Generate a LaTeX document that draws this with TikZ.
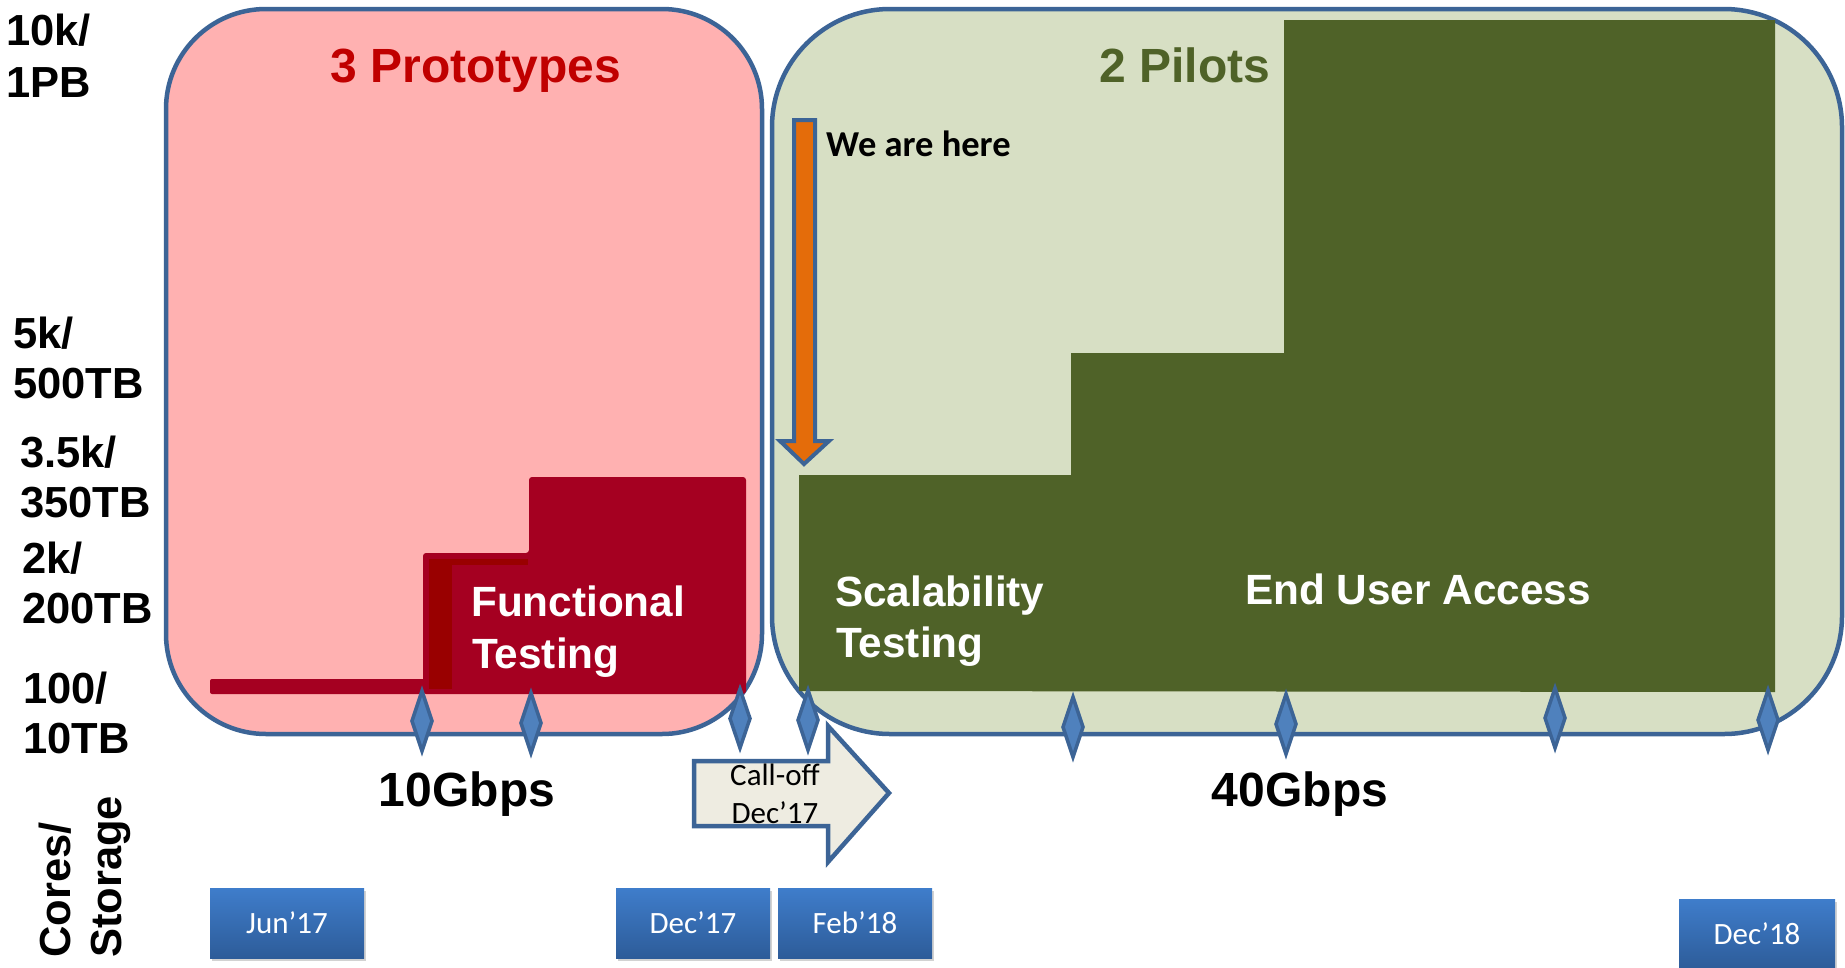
\documentclass[tikz,border=0pt]{standalone}
\usepackage{fontspec}
\setmainfont{Liberation Sans}
\newfontfamily\calibrifont{Carlito}
\usetikzlibrary{shadows}
\definecolor{outl}{HTML}{3C6496}
\definecolor{pinkfill}{HTML}{FFB1B1}
\definecolor{greenfill}{HTML}{D7DFC4}
\definecolor{darkgreen}{HTML}{4F6228}
\definecolor{darkred}{HTML}{A50021}
\definecolor{darkerred}{HTML}{990000}
\definecolor{protored}{HTML}{C00000}
\definecolor{msfill}{HTML}{4F81BD}
\definecolor{orangefill}{HTML}{E46C0A}
\definecolor{beige}{HTML}{EEECE1}
\definecolor{boxtop}{HTML}{3F7DCB}
\definecolor{boxbot}{HTML}{2D5C99}
\begin{document}
\begin{tikzpicture}[x=1pt,y=-1pt,
  frame/.style={draw=outl,line width=4.5pt},
  axislab/.style={font=\fontsize{43.5}{50}\selectfont\bfseries,inner sep=0pt,anchor=base west},
  inlab/.style={font=\fontsize{42.3}{50}\selectfont\bfseries,text=white,inner sep=0pt,anchor=base west},
  title/.style={font=\fontsize{48}{52}\selectfont\bfseries,inner sep=0pt,anchor=base},
  speed/.style={font=\fontsize{48}{52}\selectfont\bfseries,inner sep=0pt,anchor=base},
  ms/.style={draw=outl,fill=msfill,line width=3.5pt,line join=miter},
  datebox/.style={top color=boxtop,bottom color=boxbot,draw=none,minimum width=154pt,minimum height=70pt,inner sep=0pt,text=white,font=\calibrifont\fontsize{31}{36}\selectfont,drop shadow={shadow xshift=2pt,shadow yshift=-3pt,opacity=0.35}},
  calloff/.style={font=\calibrifont\fontsize{31}{36}\selectfont,inner sep=0pt,anchor=base}
]
\useasboundingbox (0,0) rectangle (1845,967);
\fill[white] (0,0) rectangle (1845,967);

% frames
\draw[frame,fill=pinkfill,rounded corners=100pt] (166,9) rectangle (762,734);
\draw[frame,fill=greenfill,rounded corners=118pt] (772,9) rectangle (1842,734);

% red steps
\fill[darkred,rounded corners=2pt] (210,679) rectangle (425,694);
\fill[darkred,rounded corners=3pt] (423,694) -- (423,553) -- (529,553) -- (529,477) -- (746,477) -- (746,694) -- cycle;
\fill[darkerred] (429,559) rectangle (452,689);
\fill[darkerred] (429,559) rectangle (528,565);

% green steps
\fill[darkgreen] (799,691) -- (799,475) -- (1071,475) -- (1071,353) -- (1284,353) -- (1284,20) -- (1775,20) -- (1775,692) -- cycle;

% titles
\node[title,text=protored] (proto) at (476,82) {3 Prototypes};
\node[title,text=darkgreen] (pilots) at (1185,82) {2 Pilots};

% axis labels
\node[axislab] (a1) at (6,45) {10k/};
\node[axislab] (a2) at (6,97) {1PB};
\node[axislab] (b1) at (13,348) {5k/};
\node[axislab] (b2) at (13,398) {500TB};
\node[axislab] (c1) at (20,467) {3.5k/};
\node[axislab] (c2) at (20,517) {350TB};
\node[axislab] (d1) at (22,573) {2k/};
\node[axislab] (d2) at (22,623) {200TB};
\node[axislab] (e1) at (23,703) {100/};
\node[axislab] (e2) at (23,753) {10TB};
\node[axislab,rotate=90] (cores) at (70,958) {Cores/};
\node[axislab,rotate=90] (storage) at (121,958) {Storage};

% inner labels
\node[inlab] (ft1) at (471,616) {Functional};
\node[inlab] (ft2) at (472,668) {Testing};
\node[inlab] (st1) at (835,606) {Scalability};
\node[inlab] (st2) at (836,657) {Testing};
\node[inlab] (eua) at (1245,604) {End User Access};

% speeds
\node[speed] (g10) at (467,806) {10Gbps};
\node[speed] (g40) at (1300,806) {40Gbps};

% we are here arrow
\draw[draw=outl,fill=orangefill,line width=4pt,line join=miter]
  (794,120) -- (815,120) -- (815,441) -- (829,441) -- (804,464) -- (780,441) -- (794,441) -- cycle;
\node[font=\calibrifont\fontsize{36.5}{40}\selectfont\bfseries,inner sep=0pt,anchor=base west] (here) at (826,156) {We are here};

% call-off arrow
\draw[draw=outl,fill=beige,line width=4.5pt,line join=miter]
  (694,761) -- (828,761) -- (828,726) -- (889,793) -- (828,862) -- (828,826) -- (694,826) -- cycle;
\node[calloff] (co1) at (775,785) {Call-off};
\node[calloff] (co2) at (775,823) {Dec’17};

% milestones
\foreach \mx/\ya/\yb in {422/689/753, 531/691/755, 740/687/750, 808/688/752, 1073/695/759, 1286/692/756, 1555/686/750, 1768/688/752}{
  \draw[ms] (\mx,\ya+2) -- (\mx+10,{(\ya+\yb)/2}) -- (\mx,\yb-2) -- (\mx-10,{(\ya+\yb)/2}) -- cycle;
}

% date boxes
\node[datebox] (jun17) at (287,923) {Jun’17};
\node[datebox] (dec17) at (693,923) {Dec’17};
\node[datebox] (feb18) at (855,923) {Feb’18};
\node[datebox,minimum width=156pt] (dec18) at (1757,934) {Dec’18};
\end{tikzpicture}
\end{document}
